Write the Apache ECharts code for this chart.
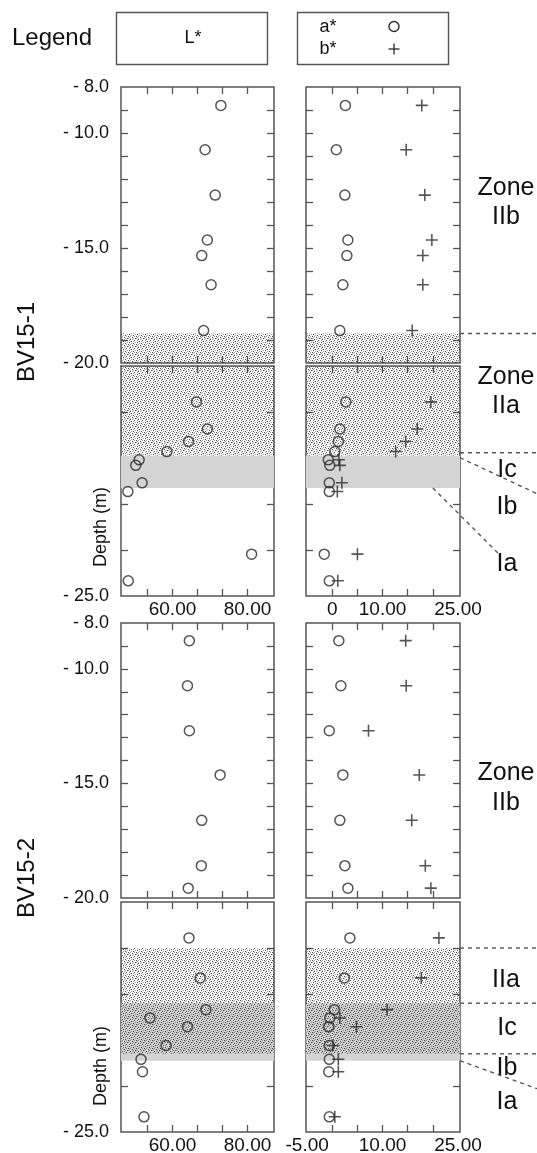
<!DOCTYPE html>
<html>
<head>
<meta charset="utf-8">
<script src="https://cdn.jsdelivr.net/npm/echarts@6.0.0/dist/echarts.min.js"></script>
<style>
  html, body { margin: 0; padding: 0; background: #fff; }
  #main { width: 537px; height: 1153px; }
</style>
</head>
<body>
<div id="main"></div>
<script>
var myChart = echarts.init(document.getElementById('main'));
var FONT = 'Liberation Sans, Arial, sans-serif';

// BV15-1, -8 to -20 m
var depth1U = [-8.8, -10.73, -12.7, -14.65, -15.33, -16.6, -18.59];
var L1U = [72.9, 68.7, 71.4, 69.3, 67.8, 70.3, 68.3];
var a1U = [2.6, 0.8, 2.5, 3.1, 2.9, 2.1, 1.5];
var b1U = [17.8, 14.7, 18.4, 19.8, 18.0, 18.0, 15.9];
// BV15-1, -20 to -25 m
var depth1L = [-20.78, -21.37, -21.64, -21.86, -22.04, -22.16, -22.54, -22.73, -24.09, -24.67];
var L1L = [66.4, 69.3, 64.3, 58.5, 51.1, 50.2, 51.9, 48.1, 81.1, 48.2];
var a1L = [2.7, 1.5, 1.2, 0.5, -0.8, -0.5, -0.6, -0.6, -1.6, -0.6];
var b1L = [19.6, 16.9, 14.6, 12.6, 1.3, 1.5, 1.9, 1.0, 5.0, 1.1];
// BV15-2, -8 to -20 m
var depth2U = [-8.77, -10.74, -12.7, -14.63, -16.61, -18.59, -19.57];
var L2U = [64.5, 64.0, 64.5, 72.7, 67.8, 67.7, 64.2];
var a2U = [1.3, 1.7, -0.6, 2.1, 1.5, 2.5, 3.1];
var b2U = [14.6, 14.7, 7.2, 17.3, 15.8, 18.5, 19.6];
// BV15-2, -20 to -25 m
var depth2L = [-20.78, -21.65, -22.34, -22.52, -22.71, -23.12, -23.42, -23.69, -24.67];
var L2L = [64.4, 67.4, 68.9, 54.0, 64.0, 58.3, 51.6, 52.0, 52.4];
var a2L = [3.5, 2.4, 0.4, -0.5, -0.7, -0.6, -0.6, -0.7, -0.6];
var b2L = [21.2, 17.7, 10.9, 1.5, 4.8, 0.1, 1.2, 1.2, 0.5];

// zone limits (m): [top, bottom]
var stipple1 = [-18.72, -21.95];
var gray1 = [-21.95, -22.65];
var stipple2 = [-21.0, -23.3];
var gray2 = [-22.2, -23.45];

// axis ticks / labels
var depthTicksU = [-9, -10, -11, -12, -13, -14, -15, -16, -17, -18, -19];
var depthTicksL = [-21, -22, -23, -24];
var depthLabelsU = [-8, -10, -15, -20];
var depthLabelsL = [-25];
var LTicks = [53.33, 60, 66.67, 73.33, 80];
var LLabels = [60, 80];
var abTicks = [0, 5, 10, 15, 20];
var abLabels1 = [0, 10, 25];
var abLabels2 = [-5, 10, 25];

// stipple pattern
var pc = document.createElement('canvas');
pc.width = 8; pc.height = 8;
var pctx = pc.getContext('2d');
pctx.fillStyle = 'rgba(20,20,20,0.8)';
[[0,0],[4,1],[2,3],[6,4],[1,6],[5,7],[3,5],[7,2]].forEach(function (p) { pctx.fillRect(p[0], p[1], 1, 1); });
pctx.fillStyle = 'rgba(20,20,20,0.4)';
[[2,0],[6,0],[0,2],[4,3],[1,4],[5,5],[7,6],[3,7],[5,2],[1,1]].forEach(function (p) { pctx.fillRect(p[0], p[1], 1, 1); });
var stippleFill = {image: pc, repeat: 'repeat'};
var grayFill = '#d4d4d4';

var cols = [{left: 121, width: 153, min: 46.27, max: 87.07}, {left: 306, width: 154, min: -5.23, max: 25.4}];
var rows = [
    {top: 87, height: 276, min: -20, max: -8},
    {top: 366, height: 230, min: -25, max: -20},
    {top: 623, height: 275, min: -20, max: -8},
    {top: 902, height: 230, min: -25, max: -20}
];

var PLUS = 'path://M4.35,0H5.65V4.35H10V5.65H5.65V10H4.35V5.65H0V4.35H4.35Z';
var INK = '#2a2a2a';

function pairs(xs, ys) {
    return xs.map(function (v, i) { return [v, ys[i]]; });
}
function fmtDepth(v) {
    return '- ' + Math.abs(v).toFixed(1);
}
function fmtX(v) {
    return v === 0 ? '0' : v.toFixed(2);
}

var grids = [], xAxes = [], yAxes = [], series = [];
var panelData = [
    [pairs(L1U, depth1U), [pairs(a1U, depth1U), pairs(b1U, depth1U)]],
    [pairs(L1L, depth1L), [pairs(a1L, depth1L), pairs(b1L, depth1L)]],
    [pairs(L2U, depth2U), [pairs(a2U, depth2U), pairs(b2U, depth2U)]],
    [pairs(L2L, depth2L), [pairs(a2L, depth2L), pairs(b2L, depth2L)]]
];
var shading = [
    [[stipple1[0], -20, stippleFill]],
    [[-20, stipple1[1], stippleFill], [gray1[0], gray1[1], grayFill]],
    [],
    [[gray2[0], gray2[1], grayFill], [stipple2[0], stipple2[1], stippleFill]]
];

rows.forEach(function (r, ri) {
    cols.forEach(function (c, ci) {
        var g = grids.length;
        var lower = (ri % 2 === 1);
        grids.push({
            left: c.left, top: r.top, width: c.width, height: r.height,
            show: true, borderColor: '#555', borderWidth: 1.5,
            backgroundColor: 'transparent', outerBoundsMode: 'none'
        });
        var tick = {show: true, inside: true, length: 7, lineStyle: {color: '#555', width: 1.3}};
        var noLine = {show: false, onZero: false};
        var xl = ci === 0 ? LLabels : (ri === 1 ? abLabels1 : abLabels2);
        xAxes.push({
            type: 'value', gridIndex: g, position: 'bottom', min: c.min, max: c.max,
            axisLine: noLine, splitLine: {show: false},
            axisTick: Object.assign({customValues: ci === 0 ? LTicks : abTicks}, tick),
            axisLabel: {show: lower, customValues: xl, formatter: fmtX, color: '#111',
                fontSize: 19, fontFamily: FONT, margin: 4, hideOverlap: false}
        });
        xAxes.push({
            type: 'value', gridIndex: g, position: 'top', min: c.min, max: c.max,
            axisLine: noLine, splitLine: {show: false},
            axisTick: Object.assign({customValues: ci === 0 ? LTicks : abTicks}, tick),
            axisLabel: {show: false}
        });
        yAxes.push({
            type: 'value', gridIndex: g, position: 'left', min: r.min, max: r.max,
            axisLine: noLine, splitLine: {show: false},
            axisTick: Object.assign({customValues: lower ? depthTicksL : depthTicksU}, tick),
            axisLabel: {show: ci === 0, customValues: lower ? depthLabelsL : depthLabelsU,
                formatter: fmtDepth, color: '#111', fontSize: 18, fontFamily: FONT, margin: 12}
        });
        yAxes.push({
            type: 'value', gridIndex: g, position: 'right', min: r.min, max: r.max,
            axisLine: noLine, splitLine: {show: false},
            axisTick: Object.assign({customValues: lower ? depthTicksL : depthTicksU}, tick),
            axisLabel: {show: false}
        });

        shading[ri].forEach(function (s, si) {
            series.push({
                type: 'scatter', xAxisIndex: 2 * g, yAxisIndex: 2 * g, data: [],
                z: 1 + si, silent: true,
                markArea: {silent: true, data: [[{yAxis: s[0], itemStyle: {color: s[2]}}, {yAxis: s[1]}]]}
            });
        });

        if (ci === 0) {
            series.push({
                name: 'L*', type: 'scatter', xAxisIndex: 2 * g, yAxisIndex: 2 * g, z: 5,
                symbol: 'circle', symbolSize: 10,
                itemStyle: {color: 'rgba(0,0,0,0)', borderColor: INK, borderWidth: 1.5},
                data: panelData[ri][0]
            });
        } else {
            series.push({
                name: 'a*', type: 'scatter', xAxisIndex: 2 * g, yAxisIndex: 2 * g, z: 5,
                symbol: 'circle', symbolSize: 10,
                itemStyle: {color: 'rgba(0,0,0,0)', borderColor: INK, borderWidth: 1.5},
                data: panelData[ri][1][0]
            });
            series.push({
                name: 'b*', type: 'scatter', xAxisIndex: 2 * g, yAxisIndex: 2 * g, z: 5,
                symbol: PLUS, symbolSize: 12,
                itemStyle: {color: INK},
                data: panelData[ri][1][1]
            });
        }
    });
});

var option = {
    animation: false,
    backgroundColor: '#fff',
    grid: grids,
    xAxis: xAxes,
    yAxis: yAxes,
    series: series
};
myChart.setOption(option);

// annotations
function px(g, x, y) {
    return myChart.convertToPixel({xAxisIndex: 2 * g, yAxisIndex: 2 * g}, [x, y]);
}
function txt(x, y, s, size, rot) {
    return {type: 'text', x: x, y: y, rotation: rot || 0, z: 10,
        style: {text: s, font: size + 'px ' + FONT, fill: '#111', align: 'center', verticalAlign: 'middle'}};
}
function seg(p0, p1, dashed, w) {
    return {type: 'line', z: 10, shape: {x1: p0[0], y1: p0[1], x2: p1[0], y2: p1[1]},
        style: {stroke: dashed ? '#555' : INK, lineWidth: w || 1.4, lineDash: dashed ? [4, 4] : null}};
}
var R = 537;
var e1 = px(1, 25.4, stipple1[0]);
var e2 = px(3, 25.4, gray1[0]);
var e3 = px(3, 20, gray1[1]);
var f1 = px(7, 25.4, stipple2[0]);
var f2 = px(7, 25.4, gray2[0]);
var f3 = px(7, 25.4, stipple2[1]);
var f4 = px(7, 25.4, gray2[1]);

var graphic = [
    txt(52, 38, 'Legend', 24),
    {type: 'rect', shape: {x: 116.5, y: 12.5, width: 151, height: 52}, style: {fill: 'none', stroke: '#555', lineWidth: 1.4}},
    {type: 'rect', shape: {x: 297.5, y: 12.5, width: 151, height: 52}, style: {fill: 'none', stroke: '#555', lineWidth: 1.4}},
    txt(193, 38, 'L*', 18),
    txt(328, 27, 'a*', 18),
    txt(328, 49, 'b*', 18),
    {type: 'circle', shape: {cx: 394, cy: 26.5, r: 5}, style: {fill: 'none', stroke: INK, lineWidth: 1.4}},
    seg([388.5, 49], [399.5, 49], false, 1.3),
    seg([394, 43.5], [394, 54.5], false, 1.3),
    txt(27, 342, 'BV15-1', 24, Math.PI / 2),
    txt(27, 878, 'BV15-2', 24, Math.PI / 2),
    txt(101, 527, 'Depth (m)', 18, Math.PI / 2),
    txt(101, 1066, 'Depth (m)', 18, Math.PI / 2),
    txt(506, 188, 'Zone', 25), txt(506, 217, 'IIb', 25),
    txt(506, 377, 'Zone', 25), txt(506, 406, 'IIa', 25),
    txt(507, 470, 'Ic', 25), txt(507, 507, 'Ib', 25), txt(507, 564, 'Ia', 25),
    txt(506, 773, 'Zone', 25), txt(506, 803, 'IIb', 25),
    txt(506, 980, 'IIa', 25), txt(507, 1028, 'Ic', 25), txt(507, 1068, 'Ib', 25), txt(507, 1102, 'Ia', 25),
    seg(e1, [R, e1[1]], true),
    seg([e2[0], e2[1] - 3], [R, e2[1] - 3], true),
    seg([e2[0], e2[1] + 2], [R, e2[1] + 38], true),
    seg(e3, [e3[0] + 65, e3[1] + 65], true),
    seg(f1, [R, f1[1]], true),
    seg(f2, [R, f2[1]], true),
    seg(f3, [R, f3[1]], true),
    seg(f4, [R, f4[1] + 28], true)
];
myChart.setOption({graphic: graphic});
</script>
</body>
</html>
